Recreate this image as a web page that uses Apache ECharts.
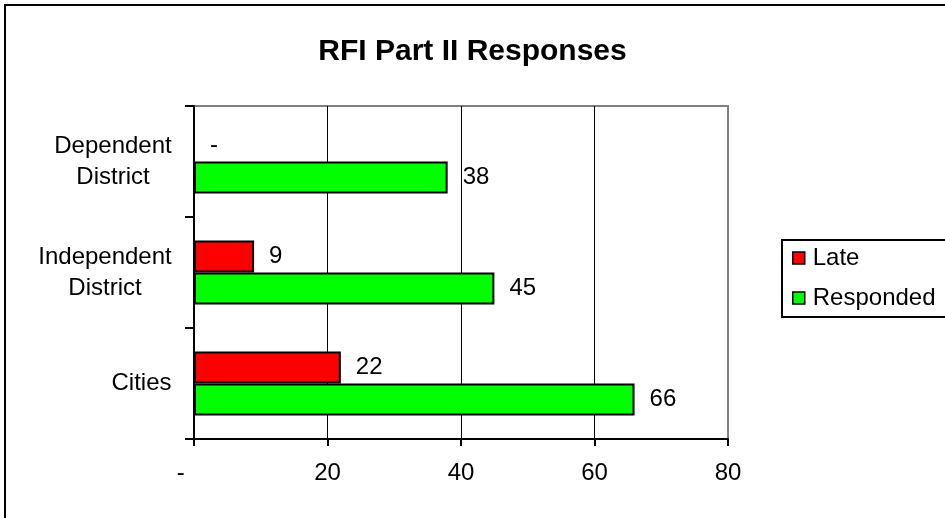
<!DOCTYPE html>
<html>
<head>
<meta charset="utf-8">
<script src="https://cdn.jsdelivr.net/npm/echarts@6/dist/echarts.min.js"></script>
<style>
  html, body { margin: 0; padding: 0; background: #fff; }
  #chart { width: 945px; height: 518px; }
</style>
</head>
<body>
<div id="chart"></div>
<script>
const categories = ['Cities', 'Independent\nDistrict', 'Dependent\nDistrict'];
const lateData = [22, 9, 0];
const respondedData = [66, 45, 38];
const xTicks = [0, 20, 40, 60, 80];

const FONT = 'Arial, "Liberation Sans", sans-serif';
const labelSize = 24;

// measure widest line so multi-line labels can be centred inside a right-aligned block
const ctx = document.createElement('canvas').getContext('2d');
ctx.font = labelSize + 'px ' + FONT;
function widest(value) {
  return Math.ceil(Math.max.apply(null, value.split('\n').map(l => ctx.measureText(l).width)));
}
function catLabel(value) {
  const key = 'c' + widest(value);
  return value.split('\n').map(l => '{' + key + '|' + l + '}').join('\n');
}
const richStyles = {};
categories.forEach(c => {
  const w = widest(c);
  richStyles['c' + w] = { width: w, align: 'center', fontSize: labelSize, fontFamily: FONT, color: '#000', lineHeight: 31 };
});

const chart = echarts.init(document.getElementById('chart'));

const barLabel = {
  show: true,
  position: 'right',
  distance: 15,
  color: '#000',
  fontSize: labelSize,
  fontFamily: FONT,
  formatter: p => p.value === 0 ? '-' : String(p.value)
};

const option = {
  backgroundColor: '#fff',
  animation: false,
  title: {
    text: 'RFI Part II Responses',
    left: 'center',
    top: 32,
    textStyle: { fontSize: 30, fontWeight: 'bold', fontFamily: FONT, color: '#000' }
  },
  graphic: [{
    type: 'rect',
    shape: { x: 5, y: 5, width: 960, height: 540 },
    style: { fill: 'none', stroke: '#000', lineWidth: 2 },
    silent: true
  }],
  legend: {
    orient: 'vertical',
    left: 782,
    top: 240,
    data: ['Late', 'Responded'],
    icon: 'rect',
    itemWidth: 12,
    itemHeight: 12,
    itemGap: 16,
    padding: [6, 40, 7, 10],
    borderColor: '#000',
    borderWidth: 2,
    itemStyle: { borderColor: '#000', borderWidth: 1.5 },
    textStyle: { fontSize: labelSize, fontFamily: FONT, color: '#000', padding: [0, 0, 0, 3] }
  },
  grid: {
    left: 194,
    right: 217,
    top: 106,
    bottom: 79,
    show: true,
    borderColor: '#808080',
    borderWidth: 2,
    backgroundColor: 'transparent'
  },
  xAxis: {
    type: 'value',
    min: 0,
    max: 80,
    interval: 20,
    axisLine: { show: true, lineStyle: { color: '#000', width: 2 } },
    axisTick: { show: true, length: 7, lineStyle: { color: '#000', width: 2 } },
    axisLabel: {
      margin: 22,
      color: '#000',
      fontSize: labelSize,
      fontFamily: FONT,
      formatter: v => v === 0 ? '-\u2007\u2007' : String(v)
    },
    splitLine: {
      show: true,
      lineStyle: { color: xTicks.map(t => t === 80 ? '#808080' : '#000'), width: 1 }
    }
  },
  yAxis: {
    type: 'category',
    data: categories,
    axisLine: { show: true, lineStyle: { color: '#000', width: 2 } },
    axisTick: { show: true, length: 9, lineStyle: { color: '#000', width: 2 } },
    axisLabel: {
      margin: 22,
      formatter: catLabel,
      rich: richStyles
    }
  },
  series: [
    {
      name: 'Late',
      type: 'bar',
      data: lateData,
      barWidth: 32,
      barGap: '0%',
      itemStyle: { color: '#ff0000', borderColor: '#000', borderWidth: 2 },
      label: barLabel
    },
    {
      name: 'Responded',
      type: 'bar',
      data: respondedData,
      barWidth: 32,
      barGap: '0%',
      itemStyle: { color: '#00ff00', borderColor: '#000', borderWidth: 2 },
      label: barLabel
    }
  ]
};

chart.setOption(option);
</script>
</body>
</html>
